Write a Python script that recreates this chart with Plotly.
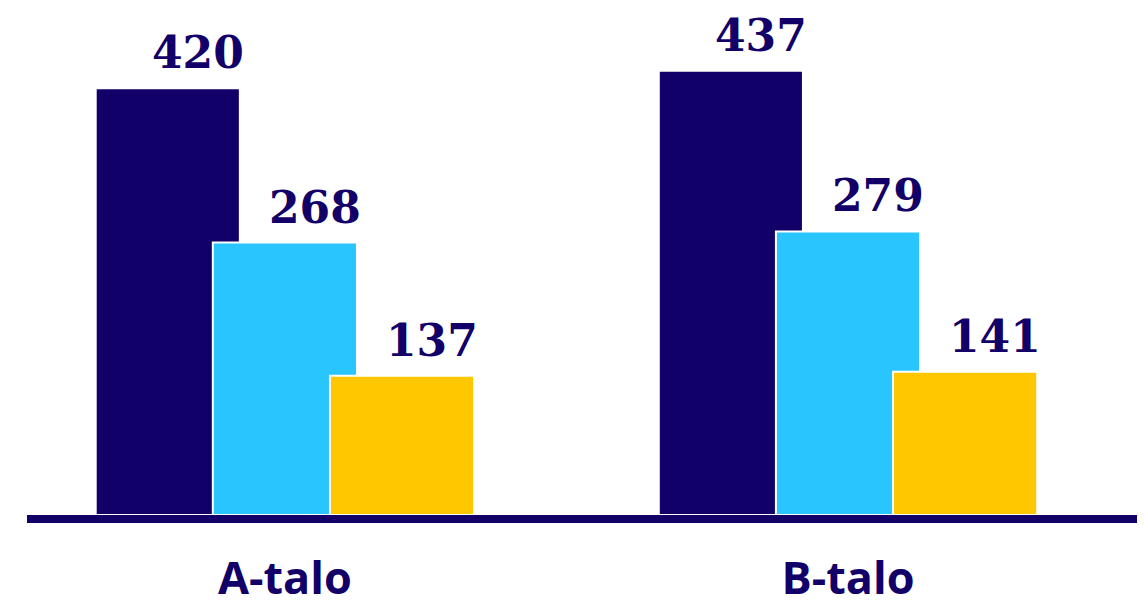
import plotly.graph_objects as go

categories = ["A-talo", "B-talo"]
series_names = ["Sarja 1", "Sarja 2", "Sarja 3"]
values_1 = [420, 437]
values_2 = [268, 279]
values_3 = [137, 141]

navy = "#120068"
colors = [navy, "#29C5FF", "#FFC700"]
all_values = [values_1, values_2, values_3]

bar_w = 0.256
step = 0.208
fig = go.Figure()
for i, (name, vals, col) in enumerate(zip(series_names, all_values, colors)):
    center = (i - 1) * step
    fig.add_trace(go.Bar(
        x=[0, 1], y=vals, name=name,
        width=bar_w, offset=center - bar_w / 2,
        marker=dict(color=col, line=dict(color="white", width=2)),
        hoverinfo="skip",
    ))
    for k, v in enumerate(vals):
        fig.add_annotation(
            x=k + center, y=v, text=str(v), showarrow=False,
            xanchor="center", yanchor="bottom", xshift=30, yshift=8,
            font=dict(family="DejaVu Serif", size=44, color=navy, weight="bold"),
        )

fig.update_layout(
    barmode="overlay",
    width=1145, height=610,
    margin=dict(l=19, r=15, t=10, b=103, autoexpand=False),
    plot_bgcolor="white", paper_bgcolor="white",
    showlegend=False,
    xaxis=dict(
        tickmode="array", tickvals=[0, 1], ticktext=categories,
        range=[-0.458, 1.515], showline=True, linecolor=navy, linewidth=8,
        showgrid=False, zeroline=False, ticks="", ticklabelstandoff=17,
        automargin=False,
        tickfont=dict(family="Open Sans", size=45, color=navy, weight="bold"),
    ),
    yaxis=dict(range=[0, 489], visible=False, showgrid=False, zeroline=False),
)

fig.write_html("out.html")
